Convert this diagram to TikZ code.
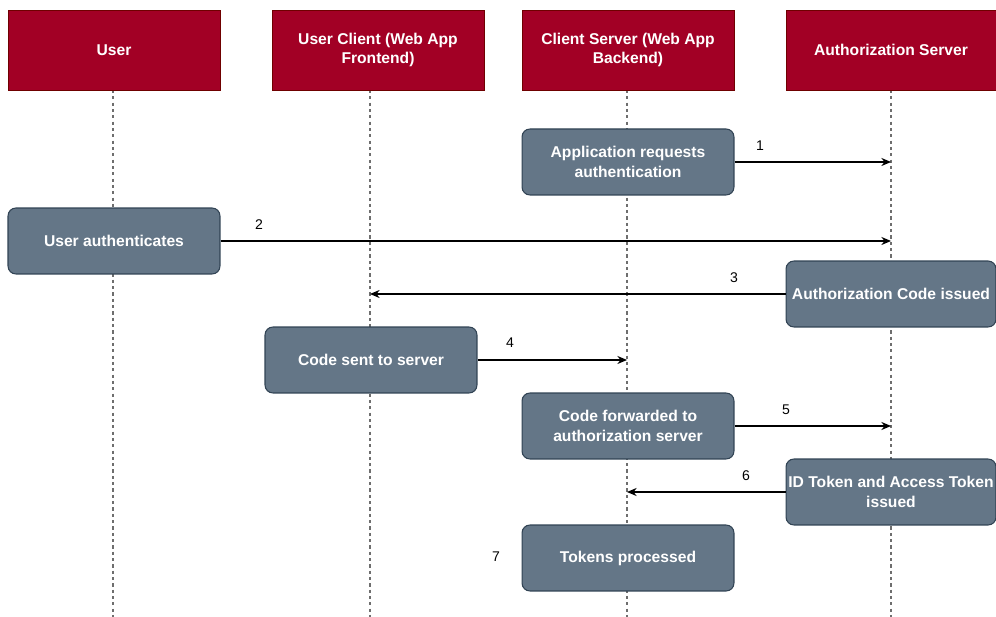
\documentclass[tikz,border=0pt]{standalone}
\usepackage{fontspec}
\setmainfont{Liberation Sans}
\usetikzlibrary{arrows.meta}
\definecolor{rougeentete}{HTML}{A20025}
\definecolor{bordentete}{HTML}{6F0000}
\definecolor{grisaction}{HTML}{647687}
\definecolor{bordaction}{HTML}{314354}
\definecolor{grisvie}{HTML}{6E6E6E}
\begin{document}
\begin{tikzpicture}[x = 0.02cm, y = -0.02cm,
                  acteur/.style={draw=bordentete, fill=rougeentete, text=white, align=center,
                                 font=\fontsize{8.9}{11.3}\selectfont\bfseries,
                                 minimum width=4.24cm, minimum height=1.6cm, inner sep=0pt},
                  action/.style={draw=bordaction, fill=grisaction, text=white, align=center,
                                 rounded corners=4.5pt, line width=0.6pt,
                                 font=\fontsize{8.9}{11.3}\selectfont\bfseries,
                                 minimum width=4.24cm, minimum height=1.32cm, inner sep=0pt},
                  etroit/.style={minimum width=4.2cm},
                  vie/.style={draw=grisvie, line width=0.6pt, dash pattern=on 1.8pt off 1.8pt},
                  msg/.style={draw, line width=0.6pt, -{Stealth[length=5.5pt, width=4.6pt]}},
                  numero/.style={font=\fontsize{8}{9.6}\selectfont}]
\useasboundingbox (0,0) rectangle (996,617);
% lignes de vie
\foreach \i/\x in {1/113, 2/370, 3/627, 4/891}
  {\coordinate (haut\i) at (\x,90);
   \coordinate (bas\i) at (\x,617);
   \draw[vie] (haut\i) -- (bas\i);};
% acteurs
\foreach \i/\x/\t in {1/114/User, 2/378/{User Client (Web App\\Frontend)},
                      3/628/{Client Server (Web App\\Backend)}}
  \node[acteur] (acteur\i) at (\x,50) {\t};
\node[acteur,etroit] (acteur4) at (891,50) {Authorization Server};
% etapes
\node[action] (demande) at (628,162) {Application requests\\authentication};
\node[action] (connexion) at (114,241) {User authenticates};
\node[action,etroit] (code) at (891,294) {Authorization Code issued};
\node[action] (envoi) at (371,360) {Code sent to server};
\node[action] (transfert) at (628,426) {Code forwarded to\\authorization server};
\node[action,etroit] (jetons) at (891,492) {ID Token and Access Token\\issued};
\node[action] (traitement) at (628,558) {Tokens processed};
% messages
\draw[msg] (demande.east) -- (demande.east -| haut4);
\draw[msg] (connexion.east) -- (connexion.east -| haut4);
\draw[msg] (code.west) -- (code.west -| haut2);
\draw[msg] (envoi.east) -- (envoi.east -| haut3);
\draw[msg] (transfert.east) -- (transfert.east -| haut4);
\draw[msg] (jetons.west) -- (jetons.west -| haut3);
\foreach \i/\x/\y in {1/760/146, 2/259/225, 3/734/278, 4/510/343, 5/786/410, 6/746/476, 7/496/557}
  \node[numero] (num\i) at (\x,\y) {\i};
\end{tikzpicture}
\end{document}
